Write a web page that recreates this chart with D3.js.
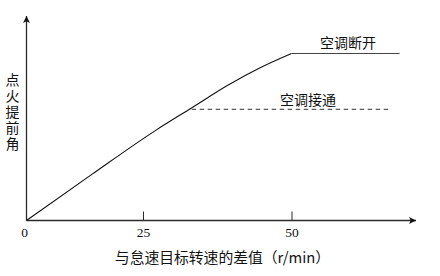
<!DOCTYPE html>
<html>
<head>
<meta charset="utf-8">
<script src="https://cdn.jsdelivr.net/npm/d3@7"></script>
<style>
  html, body { margin: 0; padding: 0; background: #fff; }
  svg { display: block; }
</style>
</head>
<body>
<svg id="chart" width="440" height="276"></svg>
<script>
// ---- data ----
const xTicks = [0, 25, 50];
// 空调断开: rising curve, then flat plateau
const acOffX = [0, 14.1, 27.2, 33.3, 39.2, 44.8, 50];
const acOffY = [0, 23.2, 45.2, 56.5, 67.5, 76.5, 83.5];
const plateauX = [50, 68.2];
const plateauY = [83.5, 83.5];
// 空调接通: dashed flat line
const acOnX = [33.2, 66.8];
const acOnY = [55.6, 55.6];
const labelOff = "空调断开";
const labelOn = "空调接通";
const yLabel = "点火提前角";
const xLabel = "与怠速目标转速的差值（r/min）";

const cjk = "'Noto Sans CJK SC', sans-serif";
const serif = "'Liberation Serif', 'Times New Roman', serif";

const svg = d3.select("#chart");

// x axis is drawn unevenly in the original figure: piecewise scale
const x = d3.scaleLinear().domain([0, 25, 50]).range([26.5, 143, 291.5]);
const y = d3.scaleLinear().domain([0, 100]).range([220.5, 20.5]);

const x0 = x(0), y0 = y(0);
const axisColor = "#2a2a2a";

// axes with arrows
svg.append("defs").append("marker")
  .attr("id", "arrow").attr("viewBox", "0 0 10 10")
  .attr("refX", 10).attr("refY", 5)
  .attr("markerWidth", 10).attr("markerHeight", 7)
  .attr("markerUnits", "userSpaceOnUse")
  .attr("orient", "auto")
  .append("path").attr("d", "M0,0 L10,5 L0,10 L2.5,5 Z").attr("fill", "#111");

svg.append("line")
  .attr("x1", x0).attr("y1", y0).attr("x2", 416).attr("y2", y0)
  .attr("stroke", axisColor).attr("stroke-width", 1.3)
  .attr("marker-end", "url(#arrow)");
svg.append("line")
  .attr("x1", x0).attr("y1", y0).attr("x2", x0).attr("y2", 16)
  .attr("stroke", axisColor).attr("stroke-width", 1.3)
  .attr("marker-end", "url(#arrow)");

// x ticks
const xAxis = d3.axisBottom(x).tickValues(xTicks).tickSizeInner(-9).tickSizeOuter(0).tickPadding(0);
const gx = svg.append("g").attr("transform", `translate(0,${y0})`).call(xAxis);
gx.select(".domain").remove();
gx.selectAll(".tick line").attr("stroke", axisColor).attr("stroke-width", 1)
  .filter(d => d === 0).remove();
gx.selectAll(".tick text")
  .attr("y", 16.5).attr("dy", null)
  .attr("font-family", serif).attr("font-size", 13.5).attr("fill", "#111")
  .attr("dx", d => d === 0 ? -2.5 : 0);

// curves
const line = d3.line().x(d => x(d[0])).y(d => y(d[1])).curve(d3.curveMonotoneX);
const offPts = acOffX.map((v, i) => [v, acOffY[i]]);
svg.append("path").datum(offPts)
  .attr("d", line).attr("fill", "none")
  .attr("stroke", "#111").attr("stroke-width", 1.1);

const straight = d3.line().x(d => x(d[0])).y(d => y(d[1]));
svg.append("path").datum(plateauX.map((v, i) => [v, plateauY[i]]))
  .attr("d", straight).attr("fill", "none")
  .attr("stroke", "#444").attr("stroke-width", 1.2);

const onPts = acOnX.map((v, i) => [v, acOnY[i]]);
svg.append("path").datum(onPts)
  .attr("d", straight)
  .attr("fill", "none").attr("stroke", "#333").attr("stroke-width", 1)
  .attr("stroke-dasharray", "4.5,3.5");

// annotations
svg.append("text").text(labelOff)
  .attr("x", 320).attr("y", y(plateauY[0]) - 12)
  .attr("dominant-baseline", "central")
  .attr("font-family", cjk).attr("font-size", 14).attr("fill", "#111");
svg.append("text").text(labelOn)
  .attr("x", 280).attr("y", y(acOnY[0]) - 10.5)
  .attr("dominant-baseline", "central")
  .attr("font-family", cjk).attr("font-size", 14).attr("fill", "#111");

// y label (vertical text)
svg.append("text").text(yLabel)
  .attr("x", 12.5).attr("y", 73)
  .attr("writing-mode", "vertical-rl")
  .style("text-orientation", "upright")
  .attr("letter-spacing", 2)
  .attr("font-family", cjk).attr("font-size", 14).attr("fill", "#111");

// x label
svg.append("text").text(xLabel)
  .attr("x", 222.5).attr("y", 256)
  .attr("text-anchor", "middle").attr("dominant-baseline", "central")
  .attr("font-family", cjk).attr("font-size", 14.8).attr("fill", "#111");
</script>
</body>
</html>
